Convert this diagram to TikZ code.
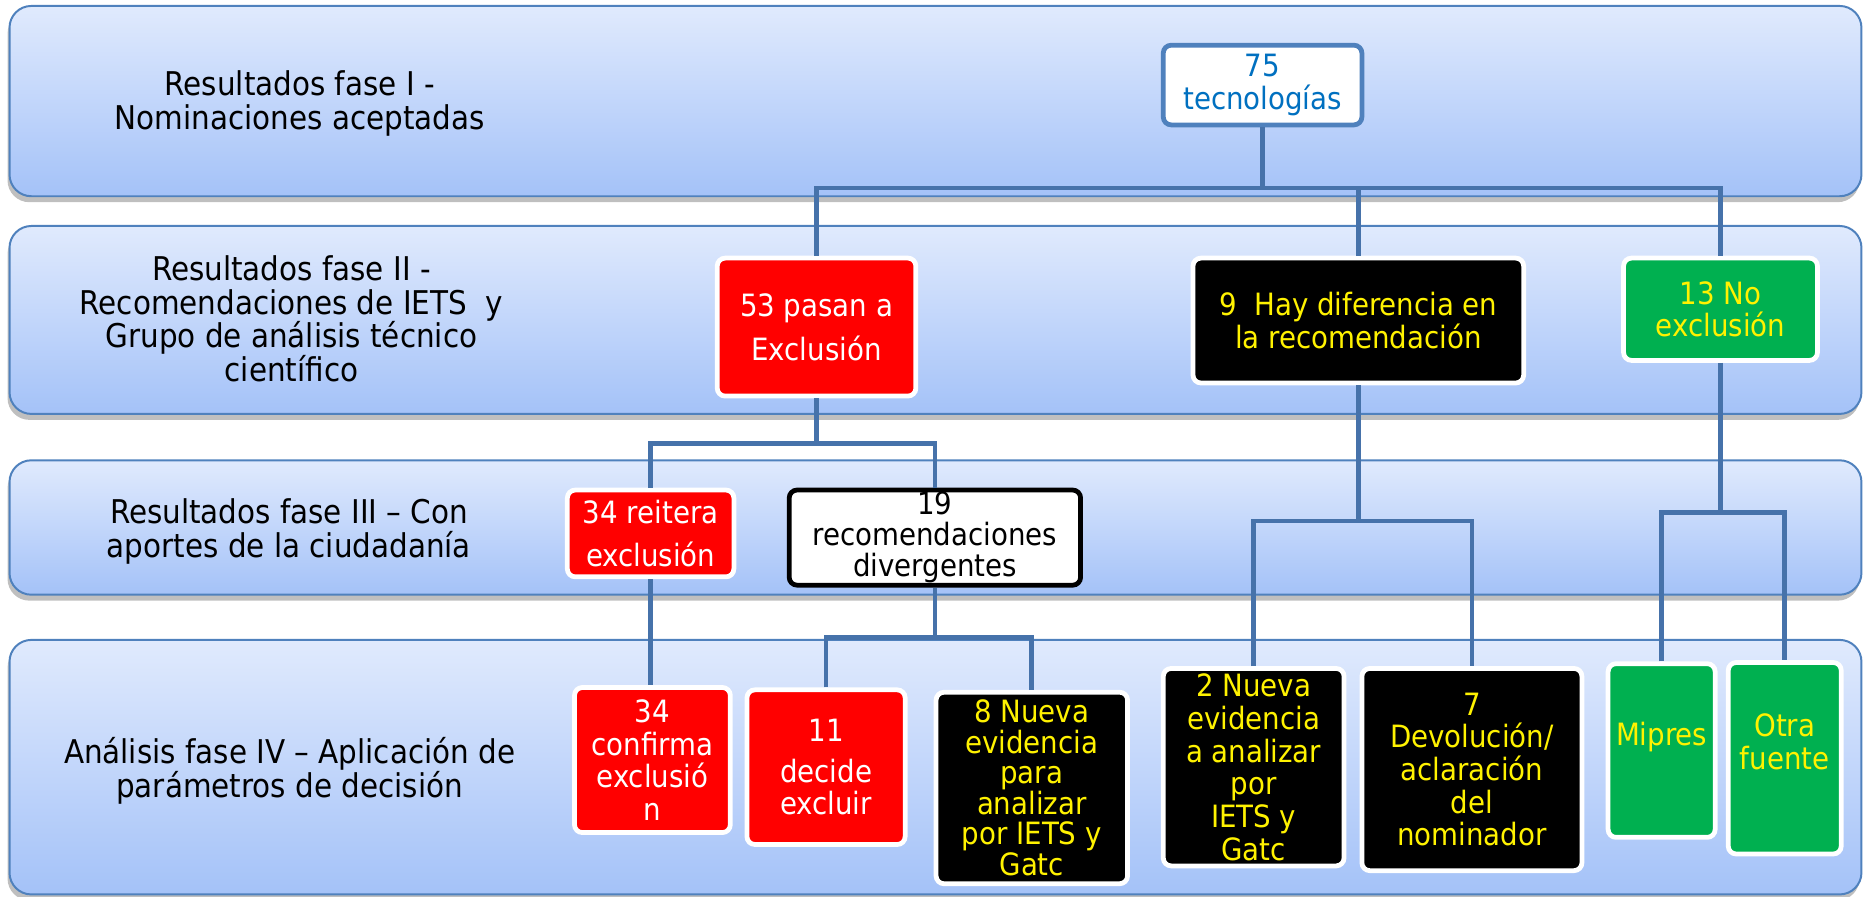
\documentclass[tikz,border=0pt]{standalone}
\usepackage{fontspec}
\setmainfont{DejaVu Sans Condensed}
\usetikzlibrary{positioning, shadows}

\definecolor{bandline}{RGB}{79,129,189}
\definecolor{bandtop}{RGB}{224,234,253}
\definecolor{bandbot}{RGB}{164,194,248}
\definecolor{linkblue}{RGB}{70,114,170}
\definecolor{numblue}{RGB}{0,112,192}
\definecolor{okgreen}{RGB}{0,176,80}

\tikzset{
  band/.style={draw=bandline, line width=1pt, rounded corners=11pt, inner sep=0pt,
    top color=bandtop, bottom color=bandbot,
    drop shadow={shadow xshift=-1pt, shadow yshift=-3pt, opacity=0.5}},
  bandlabel/.style={align=center, font=\fontsize{16.5}{17}\selectfont},
  boxsize/.style 2 args={minimum width=#1*0.6pt, minimum height=#2*0.6pt},
  card/.style={rounded corners=4pt, line width=2.4pt, align=center, inner sep=0pt,
    font=\fontsize{15.5}{16.5}\selectfont},
  redcard/.style={card, fill=red, draw=white, text=white},
  blackcard/.style={card, fill=black, draw=white, text=yellow},
  greencard/.style={card, fill=okgreen, draw=white, text=yellow},
  link/.style={draw=linkblue, line width=2.4pt},
}

\begin{document}
\begin{tikzpicture}[x=0.6pt, y=-0.6pt]
    \useasboundingbox (0,0) rectangle (1568,754);

    % Bands
    \node[band, boxsize={1557}{160}] (fase1) at (786.5,85) {};
    \node[band, boxsize={1557}{158}] (fase2) at (786.5,269) {};
    \node[band, boxsize={1557}{113}] (fase3) at (786.5,443.5) {};
    \node[band, boxsize={1557}{214}] (fase4) at (786.5,645) {};

    % Band labels
    \node[bandlabel] (lab1) at (252,87) {Resultados fase I -\\Nominaciones aceptadas};
    \node[bandlabel] (lab2) at (245,268) {Resultados fase II -\\Recomendaciones de IETS\ \ y\\Grupo de análisis técnico\\científico};
    \node[bandlabel] (lab3) at (243,447) {Resultados fase III – Con\\aportes de la ciudadanía};
    \node[bandlabel] (lab4) at (243.5,648) {Análisis fase IV – Aplicación de\\parámetros de decisión};

    % Fase I
    \node[card, fill=white, draw=bandline, text=numblue, boxsize={167}{67}] (tec) at (1061.5,71.5) {75\\tecnologías};

    % Fase II
    \node[redcard, boxsize={167}{116}, font=\fontsize{15.5}{22}\selectfont] (excl) at (686.5,275) {53 pasan a\\Exclusión};
    \node[blackcard, boxsize={278}{105}] (dif) at (1142,269.5) {9\ \ Hay diferencia en\\la recomendación};
    \node[greencard, boxsize={163}{86}] (noex) at (1446.5,260) {13 No\\exclusión};

    % Fase III
    \node[redcard, boxsize={140}{73}, font=\fontsize{15.5}{22}\selectfont] (reit) at (547,448.5) {34 reitera\\exclusión};
    \node[card, fill=white, draw=black, text=black, boxsize={245}{80}, font=\fontsize{15.5}{15.6}\selectfont] (diverg) at (786,452) {19\\recomendaciones\\divergentes};

    % Fase IV
    \node[redcard, boxsize={131}{122}] (confirma) at (548.5,639) {34\\confirma\\exclusió\\n};
    \node[redcard, boxsize={133}{130}] (decide) at (694.5,645) {11\\[4pt]decide\\excluir};
    \node[blackcard, boxsize={161}{161}, font=\fontsize{15.5}{15.4}\selectfont] (nueva8) at (867.5,662.5) {8 Nueva\\evidencia\\para\\analizar\\por IETS y\\Gatc};
    \node[blackcard, boxsize={152}{166}] (nueva2) at (1054,645) {2 Nueva\\evidencia\\a analizar\\por\\IETS y\\Gatc};
    \node[blackcard, boxsize={185}{170}] (devol) at (1237.5,647) {7\\Devolución/\\aclaración\\del\\nominador};
    \node[greencard, boxsize={90}{146}] (mipres) at (1397,631) {Mipres\\~};
    \node[greencard, boxsize={95}{161}] (otra) at (1500.5,637.5) {Otra\\fuente\\~};

    % Connectors
    \coordinate (busA) at (1061.5,158);
    \draw[link] (tec.south) -- (busA);
    \draw[link] (excl.north) |- (busA) -| (noex.north);
    \draw[link] (dif.north) -- (dif.north |- busA);

    \coordinate (busB) at (686.5,373);
    \draw[link] (excl.south) -- (busB);
    \draw[link] (reit.north) |- (busB) -| (diverg.north);
    \draw[link] (reit.south) -- (reit.south |- confirma.north);

    \coordinate (busC) at (786,536);
    \draw[link] (diverg.south) -- (busC);
    \draw[link] (decide.north) |- (busC) -| (nueva8.north);

    \coordinate (busD) at (1142,438);
    \draw[link] (dif.south) -- (busD);
    \draw[link] (nueva2.north) |- (busD) -| (devol.north);

    \coordinate (busE) at (1446.5,431);
    \draw[link] (noex.south) -- (busE);
    \draw[link] (mipres.north) |- (busE) -| (otra.north);

\end{tikzpicture}
\end{document}
